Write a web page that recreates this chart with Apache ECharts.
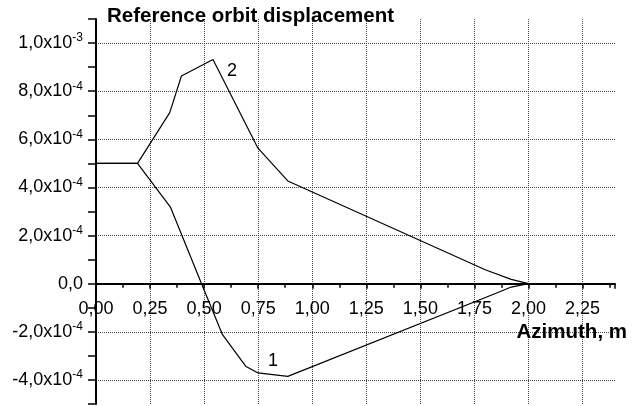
<!DOCTYPE html>
<html>
<head>
<meta charset="utf-8">
<script src="https://cdn.jsdelivr.net/npm/echarts@6/dist/echarts.min.js"></script>
<style>
  html, body { margin: 0; padding: 0; background: #fff; }
  #chart { width: 640px; height: 406px; }
</style>
</head>
<body>
<div id="chart"></div>
<script>
// azimuth, m
var azimuth1 = [0, 0.192, 0.345, 0.488, 0.585, 0.692, 0.749, 0.887, 1.85, 1.92, 2.0];
var azimuth2 = [0, 0.192, 0.341, 0.395, 0.541, 0.749, 0.887, 1.80, 1.92, 2.0];
// displacement in units of 1e-4
var disp1 = [5.0, 5.0, 3.17, 0, -2.12, -3.43, -3.71, -3.85, -0.40, -0.14, 0];
var disp2 = [5.0, 5.0, 7.11, 8.63, 9.32, 5.63, 4.27, 0.58, 0.18, 0];
var curveNames = ['1', '2'];
var labelIndex = [6, 4]; // which point carries the curve number

var font = 'Liberation Sans, Arial, sans-serif';
var gridTop = 19, gridBottom = 2, chartH = 406;
var yMin = -5, yMax = 11;
// v6 keeps labels at the grid edge with onZero, so shift the whole x axis up to y = 0
var zeroShift = (chartH - gridTop - gridBottom) * (0 - yMin) / (yMax - yMin);

function buildData(xs, ys, idx, name, offset) {
  return xs.map(function (x, i) {
    var item = { value: [x, ys[i]] };
    if (i === idx) {
      item.label = {
        show: true, formatter: name, position: 'inside', offset: offset,
        color: '#000', fontSize: 18, fontFamily: font
      };
    }
    return item;
  });
}

function yLabel(v) {
  var n = Math.round(v);
  if (n % 2 !== 0) return '';
  if (n === 0) return '0,0';
  if (Math.abs(n) >= 10) return (n / 10).toFixed(1).replace('.', ',') + 'x10{sup|-3}';
  return n.toFixed(1).replace('.', ',') + 'x10{sup|-4}';
}

var chart = echarts.init(document.getElementById('chart'));
var option = {
  animation: false,
  backgroundColor: '#fff',
  grid: { left: 96, right: 25, top: gridTop, bottom: gridBottom, outerBoundsMode: 'none' },
  xAxis: {
    type: 'value',
    min: 0, max: 2.4, interval: 0.25,
    offset: -zeroShift,
    name: 'Azimuth, m',
    nameLocation: 'end',
    nameGap: 12,
    nameTextStyle: {
      fontFamily: font, fontSize: 20.5, fontWeight: 'bold', color: '#000',
      align: 'right', verticalAlign: 'top', padding: [38, 0, 0, 0]
    },
    axisLine: { onZero: false, lineStyle: { color: '#000', width: 2 } },
    axisTick: { length: 5, lineStyle: { color: '#000', width: 1.5 } },
    minorTick: { show: true, splitNumber: 2, length: 4, lineStyle: { color: '#000', width: 1.5 } },
    axisLabel: {
      fontFamily: font, fontSize: 18, color: '#000', margin: 16,
      showMaxLabel: false,
      formatter: function (v) { return v.toFixed(2).replace('.', ','); }
    },
    splitLine: {
      show: true, showMinLine: false, showMaxLine: false,
      lineStyle: { type: 'dotted', color: '#444', width: 1 }
    }
  },
  yAxis: {
    type: 'value',
    min: yMin, max: yMax, interval: 1,
    name: 'Reference orbit displacement',
    nameLocation: 'end',
    nameGap: 3,
    nameTextStyle: {
      fontFamily: font, fontSize: 20.5, fontWeight: 'bold', color: '#000',
      align: 'left', verticalAlign: 'middle', padding: [0, 0, 0, 11]
    },
    axisLine: { lineStyle: { color: '#000', width: 2 } },
    axisTick: { length: 8, lineStyle: { color: '#000', width: 1.5 } },
    axisLabel: {
      fontFamily: font, fontSize: 18, color: '#000', margin: 13,
      formatter: yLabel,
      rich: {
        sup: { fontFamily: font, fontSize: 12, color: '#000', padding: [0, 0, 10, 0] }
      }
    },
    splitLine: {
      show: true,
      lineStyle: { type: 'dotted', color: ['transparent', '#444'], width: 1 }
    }
  },
  series: [
    {
      name: curveNames[0], type: 'line', symbol: 'circle', symbolSize: 0, showSymbol: true,
      lineStyle: { color: '#000', width: 1.2 },
      data: buildData(azimuth1, disp1, labelIndex[0], curveNames[0], [15, -12])
    },
    {
      name: curveNames[1], type: 'line', symbol: 'circle', symbolSize: 0, showSymbol: true,
      lineStyle: { color: '#000', width: 1.2 },
      data: buildData(azimuth2, disp2, labelIndex[1], curveNames[1], [19, 12])
    }
  ]
};
chart.setOption(option);
</script>
</body>
</html>
